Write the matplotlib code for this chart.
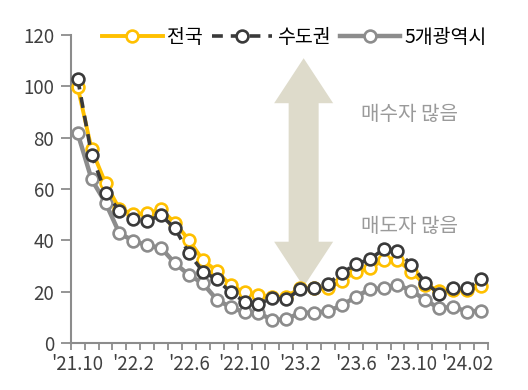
import matplotlib
matplotlib.use("Agg")
import matplotlib.pyplot as plt
from matplotlib.patches import Polygon
from matplotlib.transforms import IdentityTransform
import numpy as np

plt.rcParams['font.family'] = ['Noto Sans CJK KR', 'DejaVu Sans']

months = ["'21.10", "'21.11", "'21.12", "'22.1", "'22.2", "'22.3", "'22.4", "'22.5",
          "'22.6", "'22.7", "'22.8", "'22.9", "'22.10", "'22.11", "'22.12", "'23.1",
          "'23.2", "'23.3", "'23.4", "'23.5", "'23.6", "'23.7", "'23.8", "'23.9",
          "'23.10", "'23.11", "'23.12", "'24.1", "'24.02", "'24.3"]
nation = [99.8, 75.5, 62.3, 52.3, 50.3, 50.6, 52.1, 46.8, 40.2, 32.4, 28.1, 22.5, 19.8, 18.8,
          17.8, 18.1, 21.4, 21.4, 21.4, 24.3, 27.9, 29.2, 32.4, 32.4, 27.9, 22.7, 20.5, 20.7,
          20.7, 22.3]
capital = [103.0, 73.3, 58.6, 51.6, 48.2, 47.7, 49.8, 44.7, 35.0, 27.9, 24.9, 19.8, 16.2, 15.4,
           17.5, 17.1, 21.0, 21.4, 23.2, 27.3, 30.8, 32.7, 36.6, 36.0, 30.5, 23.6, 19.2, 21.4,
           21.4, 24.9]
metro5 = [81.7, 63.8, 54.7, 42.8, 39.9, 38.1, 37.1, 31.1, 26.6, 23.3, 17.0, 14.0, 12.0, 11.7,
          9.1, 9.3, 11.9, 11.9, 12.5, 14.7, 18.1, 21.0, 21.4, 22.7, 20.5, 16.8, 13.6, 14.2,
          12.3, 12.7]
series_names = ['전국', '수도권', '5개광역시']
label_every = 4
yticks = [0, 20, 40, 60, 80, 100, 120]

fig = plt.figure(figsize=(5.28, 3.9), dpi=100)
ax = fig.add_axes([0.134, 0.12, 0.79, 0.79])

x = np.arange(len(months))
mk = dict(marker='o', markersize=8.5, markerfacecolor='white', markeredgewidth=1.9)
ax.plot(x, metro5, color='#8C8C8C', lw=3.2, markeredgecolor='#8C8C8C', label=series_names[2], zorder=3, **mk)
ax.plot(x, nation, color='#FFC000', lw=2.8, markeredgecolor='#FFC000', label=series_names[0], zorder=4, **mk)
ax.plot(x, capital, color='#3A3A3A', lw=2.6, dashes=(3, 2.2), markeredgecolor='#3A3A3A', label=series_names[1], zorder=5, **mk)

ax.set_xlim(-0.5, len(months) - 0.5)
ax.set_ylim(0, 120)
ax.set_yticks(yticks)
ax.set_xticks(x[::label_every])
ax.set_xticklabels(months[::label_every])
ax.set_xticks(np.arange(len(months) + 1) - 0.5, minor=True)
ax.tick_params(axis='x', which='major', length=0, pad=8, labelsize=13.5, labelcolor='#404040')
ax.tick_params(axis='x', which='minor', length=5, width=1.3, color='#8C8C8C')
ax.tick_params(axis='y', length=7, width=1.3, color='#8C8C8C', labelsize=13.5, labelcolor='#404040', pad=5)
for s in ['top', 'right']:
    ax.spines[s].set_visible(False)
for s in ['left', 'bottom']:
    ax.spines[s].set_color('#8C8C8C')
    ax.spines[s].set_linewidth(1.5)

# double-headed arrow (built in display pixels around data anchor points)
arrow_x = 16.25
arrow_top, arrow_bot = 111, 22
xc, ty = ax.transData.transform((arrow_x, arrow_top))
_, by = ax.transData.transform((arrow_x, arrow_bot))
sw, hw, hl = 15, 29.5, 45
verts = [(xc, ty), (xc + hw, ty - hl), (xc + sw, ty - hl), (xc + sw, by + hl), (xc + hw, by + hl),
         (xc, by), (xc - hw, by + hl), (xc - sw, by + hl), (xc - sw, ty - hl), (xc - hw, ty - hl)]
ax.add_patch(Polygon(verts, closed=True, facecolor='#DEDBCB', edgecolor='none',
                     transform=IdentityTransform(), zorder=1))

ax.text(20.35, 89, '매수자 많음', fontsize=14.5, color='#9A9A9A', ha='left', va='center')
ax.text(20.35, 45.6, '매도자 많음', fontsize=14.5, color='#9A9A9A', ha='left', va='center')

h, l = ax.get_legend_handles_labels()
order = [1, 2, 0]
fig.legend([h[i] for i in order], [l[i] for i in order], loc='center', bbox_to_anchor=(0.558, 0.905),
           ncol=3, frameon=False, fontsize=14, handlelength=3.1, columnspacing=0.45, handletextpad=0.25,
           borderaxespad=0)

fig.savefig('out.png', dpi=100)
